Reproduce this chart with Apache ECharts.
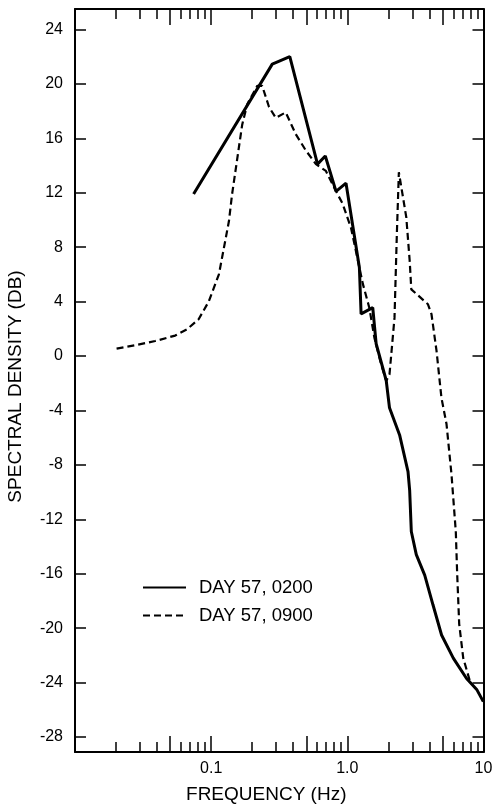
<!DOCTYPE html>
<html>
<head>
<meta charset="utf-8">
<script src="https://cdn.jsdelivr.net/npm/echarts@6/dist/echarts.min.js"></script>
<style>
html,body{margin:0;padding:0;background:#fff;}
#chart{width:494px;height:807px;}
</style>
</head>
<body>
<div id="chart"></div>
<script>
// ---- data ----
const seriesNames = ['DAY 57, 0200', 'DAY 57, 0900'];
const solidFreq = [0.0743, 0.281, 0.378, 0.604, 0.689, 0.826, 0.978, 1.226, 1.262, 1.537, 1.628, 1.93, 2.04, 2.42, 2.79, 2.87, 2.95, 3.21, 3.70, 4.26, 4.92, 6.0, 7.51, 8.91, 9.97];
const solidDb = [11.9, 21.45, 22.0, 14.1, 14.7, 12.1, 12.7, 6.5, 3.1, 3.55, 0.9, -1.8, -3.8, -5.8, -8.5, -9.9, -12.9, -14.6, -16.1, -18.3, -20.5, -22.2, -23.7, -24.5, -25.4];
const dashFreq = [0.0202, 0.0276, 0.0388, 0.0544, 0.0663, 0.0809, 0.0959, 0.114, 0.135, 0.1425, 0.169, 0.184, 0.218, 0.237, 0.266, 0.298, 0.353, 0.418, 0.496, 0.588, 0.696, 0.826, 0.923, 1.065, 1.30, 1.45, 1.58, 1.77, 1.93, 2.04, 2.22, 2.31, 2.39, 2.71, 2.87, 2.95, 3.91, 4.15, 4.52, 4.91, 5.35, 5.82, 6.26, 6.41, 6.63, 7.1, 7.95];
const dashDb = [0.54, 0.79, 1.1, 1.5, 1.95, 2.7, 4.0, 6.0, 9.9, 11.9, 17.0, 18.5, 19.85, 19.85, 18.3, 17.5, 17.9, 16.3, 15.1, 14.1, 13.6, 12.1, 11.2, 9.4, 5.3, 3.55, 1.35, -0.6, -1.84, -1.35, 2.8, 8.95, 13.5, 10.2, 7.0, 4.9, 3.8, 3.07, 0.37, -3.07, -5.0, -8.7, -12.9, -16.05, -19.7, -22.2, -23.9];
const xLabelValues = [0.1, 1, 10];
const xLabelTexts = ['0.1', '1.0', '10'];
const xMajorTicks = [0.05, 0.1, 0.5, 1, 5, 10];
const xMinorTicks = [0.02, 0.03, 0.04, 0.06, 0.07, 0.08, 0.09, 0.2, 0.3, 0.4, 0.6, 0.7, 0.8, 0.9, 2, 3, 4, 6, 7, 8, 9];
const yTicks = [-28, -24, -20, -16, -12, -8, -4, 0, 4, 8, 12, 16, 20, 24];

const FONT = '"Liberation Sans", Arial, sans-serif';
const chart = echarts.init(document.getElementById('chart'), null, {renderer: 'canvas'});

function xAxisBase(pos, ticks, len, showLine, showLabels) {
  return {
    type: 'log', logBase: 10, min: 0.01, max: 10, position: pos,
    axisLine: {show: showLine, onZero: false, lineStyle: {color: '#000', width: 2}},
    axisTick: {show: true, inside: true, length: len, customValues: ticks, lineStyle: {color: '#000', width: 1.5}},
    axisLabel: showLabels ? {
      show: true, customValues: xLabelValues, margin: 9, color: '#000', fontSize: 16, fontFamily: FONT,
      formatter: v => { const i = xLabelValues.findIndex(t => Math.abs(t - v) / t < 1e-6); return i >= 0 ? xLabelTexts[i] : ''; }
    } : {show: false},
    splitLine: {show: false}, minorTick: {show: false}
  };
}

const option = {
  backgroundColor: '#fff',
  animation: false,
  grid: {left: 75, right: 10.5, top: 9, bottom: 55, containLabel: false, outerBoundsMode: 'none'},
  legend: {
    orient: 'vertical', left: 142, top: 578, padding: 0, itemWidth: 43, itemHeight: 14, itemGap: 9,
    itemStyle: {opacity: 0},
    textStyle: {color: '#000', fontSize: 18.5, fontFamily: FONT, padding: [0, 0, 0, 8]},
    data: seriesNames
  },
  xAxis: [
    Object.assign(xAxisBase('bottom', xMajorTicks, 16, true, true), {
      name: 'FREQUENCY (Hz)', nameLocation: 'middle', nameGap: 33,
      nameTextStyle: {color: '#000', fontSize: 19, fontFamily: FONT, padding: [0, 26, 0, 0]}
    }),
    xAxisBase('bottom', xMinorTicks, 10, false, false),
    xAxisBase('top', xMajorTicks, 16, true, false),
    xAxisBase('top', xMinorTicks, 10, false, false)
  ],
  yAxis: [
    {
      type: 'value', min: -29.1, max: 25.5, position: 'left',
      name: 'SPECTRAL DENSITY (DB)', nameLocation: 'middle', nameGap: 50,
      nameTextStyle: {color: '#000', fontSize: 19, fontFamily: FONT, padding: [0, 12, 0, 0]},
      axisLine: {show: true, onZero: false, lineStyle: {color: '#000', width: 2}},
      axisTick: {show: true, inside: true, length: 11, customValues: yTicks, lineStyle: {color: '#000', width: 1.5}},
      axisLabel: {show: true, customValues: yTicks, margin: 12, color: '#000', fontSize: 16, fontFamily: FONT},
      splitLine: {show: false}
    },
    {
      type: 'value', min: -29.1, max: 25.5, position: 'right',
      axisLine: {show: true, onZero: false, lineStyle: {color: '#000', width: 2}},
      axisTick: {show: true, inside: true, length: 11, customValues: yTicks, lineStyle: {color: '#000', width: 1.5}},
      axisLabel: {show: false},
      splitLine: {show: false}
    }
  ],
  series: [
    {
      name: seriesNames[0], type: 'line', xAxisIndex: 0, yAxisIndex: 0,
      data: solidFreq.map((f, i) => [f, solidDb[i]]),
      symbol: 'none', lineStyle: {color: '#000', width: 3, type: 'solid'},
      itemStyle: {color: '#000'}
    },
    {
      name: seriesNames[1], type: 'line', xAxisIndex: 0, yAxisIndex: 0,
      data: dashFreq.map((f, i) => [f, dashDb[i]]),
      symbol: 'none', lineStyle: {color: '#000', width: 2.2, type: [7, 4]},
      itemStyle: {color: '#000'}
    }
  ]
};
chart.setOption(option);
</script>
</body>
</html>
